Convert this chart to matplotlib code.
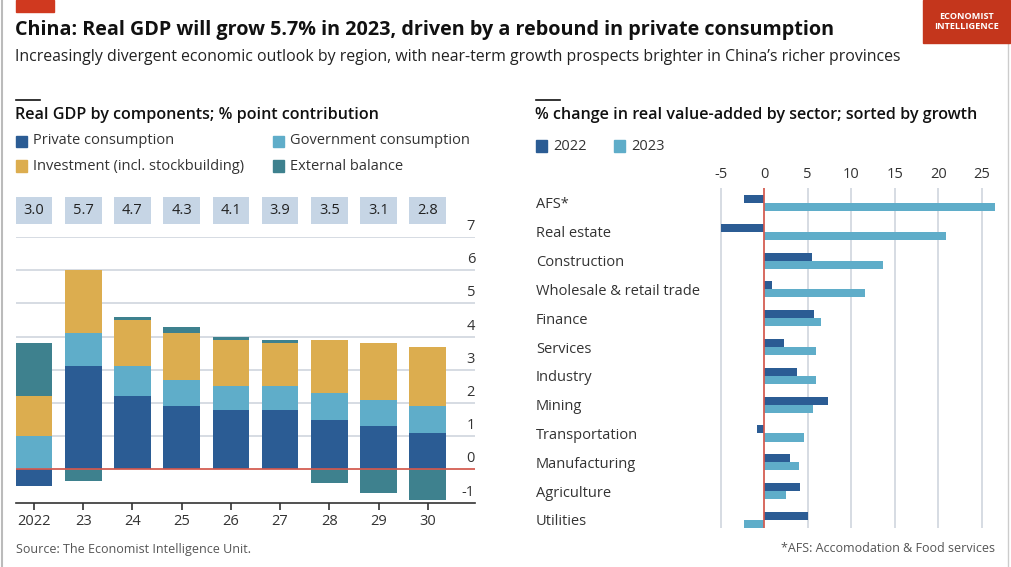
import matplotlib
matplotlib.use('Agg')
import matplotlib.pyplot as plt
from matplotlib.patches import Rectangle
from matplotlib.lines import Line2D
import numpy as np

plt.rcParams['font.family'] = ['Open Sans', 'DejaVu Sans']

# left chart: contributions to real GDP growth (% points)
years = ['2022', '23', '24', '25', '26', '27', '28', '29', '30']
gdp_growth = ['3.0', '5.7', '4.7', '4.3', '4.1', '3.9', '3.5', '3.1', '2.8']
private = [-0.5, 3.1, 2.2, 1.9, 1.8, 1.8, 1.5, 1.3, 1.1]
government = [1.0, 1.0, 0.9, 0.8, 0.7, 0.7, 0.8, 0.8, 0.8]
investment = [1.2, 1.9, 1.4, 1.4, 1.4, 1.3, 1.6, 1.7, 1.8]
external = [1.6, -0.35, 0.1, 0.2, 0.1, 0.1, -0.42, -0.72, -0.93]

# right chart: % change in real value-added by sector
sectors = ['AFS*', 'Real estate', 'Construction', 'Wholesale & retail trade', 'Finance',
           'Services', 'Industry', 'Mining', 'Transportation', 'Manufacturing',
           'Agriculture', 'Utilities']
va_2022 = [-2.3, -5.0, 5.5, 0.9, 5.7, 2.3, 3.8, 7.35, -0.8, 3.0, 4.1, 5.0]
va_2023 = [26.5, 20.9, 13.6, 11.6, 6.5, 6.0, 5.9, 5.55, 4.55, 3.95, 2.45, -2.3]

C_PRIV = '#2b5c94'
C_GOV = '#5fadc9'
C_INV = '#dcad4f'
C_EXT = '#3e818e'
C_BOX = '#c6d5e5'
C_GRID = '#cfd6de'
C_ZERO = '#d9574a'
C_TXT = '#333333'

W, H = 1011, 567
fig = plt.figure(figsize=(W / 100, H / 100), dpi=100)


def fx(px):
    return px / W


def fy(py):
    return 1 - py / H


# header
fig.patches.append(Rectangle((fx(16), fy(12)), fx(38), 12 / H, transform=fig.transFigure,
                             color='#d0391f', zorder=5))
fig.patches.append(Rectangle((fx(923), fy(43)), fx(87), 43 / H, transform=fig.transFigure,
                             color='#c4361c', zorder=5))
fig.text(fx(966.5), fy(21.5), 'ECONOMIST\nINTELLIGENCE', color='white', fontsize=6.6,
         fontweight='bold', ha='center', va='center', linespacing=1.15, zorder=6)
fig.text(fx(15), fy(30), 'China: Real GDP will grow 5.7% in 2023, driven by a rebound in private consumption',
         fontsize=14.25, fontweight='bold', color='#111111', va='center')
fig.text(fx(15), fy(57), "Increasingly divergent economic outlook by region, with near-term growth prospects brighter in China\u2019s richer provinces",
         fontsize=11.45, color='#222222', va='center')

# side frame lines
fig.add_artist(Line2D([fx(1.5), fx(1.5)], [fy(0), fy(567)], color='#bbbbbb', lw=1.5))
fig.add_artist(Line2D([fx(1008), fx(1008)], [fy(43), fy(567)], color='#cccccc', lw=1))

# section headers
for x0, title in [(16, 'Real GDP by components; % point contribution'),
                  (536, '% change in real value-added by sector; sorted by growth')]:
    fig.add_artist(Line2D([fx(x0), fx(x0 + 24)], [fy(100), fy(100)], color='#111111', lw=1.2))
    fig.text(fx(x0 - 1), fy(115), title, fontsize=11.6, fontweight='semibold', color='#111111', va='center')

# legends
def legend_item(x, y, color, label):
    fig.patches.append(Rectangle((fx(x), fy(y + 5.5)), 11 / W, 11 / H, transform=fig.transFigure,
                                 color=color))
    fig.text(fx(x + 17), fy(y), label, fontsize=10.5, color=C_TXT, va='center')


legend_item(16, 141, C_PRIV, 'Private consumption')
legend_item(273, 141, C_GOV, 'Government consumption')
legend_item(16, 166, C_INV, 'Investment (incl. stockbuilding)')
legend_item(273, 166, C_EXT, 'External balance')
legend_item(536, 146, C_PRIV, '2022')
legend_item(614, 146, C_GOV, '2023')

# ---- left chart
ax = fig.add_axes([fx(16), fy(502.5), fx(475) - fx(16), (502.5 - 237) / H])
x = np.arange(len(years))
bw = 0.746
priv = np.array(private)
gov = np.array(government)
inv = np.array(investment)
ext = np.array(external)

pos_base = np.where(priv > 0, priv, 0)
neg_base = np.where(priv < 0, priv, 0)
ax.bar(x, priv, bw, color=C_PRIV, zorder=3)
ax.bar(x, gov, bw, bottom=pos_base, color=C_GOV, zorder=3)
ax.bar(x, inv, bw, bottom=pos_base + gov, color=C_INV, zorder=3)
ext_bottom = np.where(ext > 0, pos_base + gov + inv, neg_base)
ax.bar(x, ext, bw, bottom=ext_bottom, color=C_EXT, zorder=3)

ax.set_xlim(-0.366, 8.96)
ax.set_ylim(-1, 7)
for v in range(0, 8):
    ax.axhline(v, color=C_GRID, lw=1.2, zorder=1)
ax.axhline(0, color=C_ZERO, lw=1.2, zorder=4)
for v in range(-1, 8):
    ax.text(8.96, v + 0.09, str(v), ha='right', va='bottom', fontsize=10.5, color=C_TXT)

# growth value boxes above chart
ax.bar(x, 0.81, bw, bottom=7.40, color=C_BOX, clip_on=False, zorder=3)
for xi, lab in zip(x, gdp_growth):
    ax.text(xi, 7.805, lab, ha='center', va='center', fontsize=10.5, color='#222222', clip_on=False)

for s in ['top', 'right', 'left']:
    ax.spines[s].set_visible(False)
ax.spines['bottom'].set_color('#333333')
ax.spines['bottom'].set_linewidth(1.2)
ax.set_yticks([])
ax.set_xticks(x)
ax.set_xticklabels(years, fontsize=10.5, color=C_TXT)
ax.tick_params(axis='x', length=5, width=1.2, color='#333333', pad=3)

# ---- right chart
ax2 = fig.add_axes([fx(715.5), fy(528), fx(997.4) - fx(715.5), (528 - 188) / H])
y = np.arange(len(sectors))
bh = 0.28
ax2.barh(y - bh / 2, va_2022, bh, color=C_PRIV, zorder=3)
ax2.barh(y + bh / 2, va_2023, bh, color=C_GOV, zorder=3)
ax2.set_xlim(-5.6, 26.8)
ax2.set_ylim(11.28, -0.52)
for v in range(-5, 30, 5):
    ax2.axvline(v, color=C_GRID, lw=1.2, zorder=1)
ax2.axvline(0, color=C_ZERO, lw=1.2, zorder=4)
for s in ax2.spines.values():
    s.set_visible(False)
ax2.xaxis.tick_top()
ax2.set_xticks(range(-5, 30, 5))
ax2.set_xticklabels([str(v) for v in range(-5, 30, 5)], fontsize=10.5, color=C_TXT)
ax2.tick_params(axis='x', length=0, pad=4)
ax2.set_yticks(y)
ax2.set_yticklabels(sectors, fontsize=10.5, color=C_TXT, ha='left')
ax2.tick_params(axis='y', length=0, pad=(715.5 - 536) * 0.72)

# footer
fig.text(fx(16), fy(549), 'Source: The Economist Intelligence Unit.', fontsize=9, color='#555555', va='center')
fig.text(fx(995), fy(549), '*AFS: Accomodation & Food services', fontsize=9, color='#555555',
         va='center', ha='right')

fig.savefig('out.png', dpi=100)
